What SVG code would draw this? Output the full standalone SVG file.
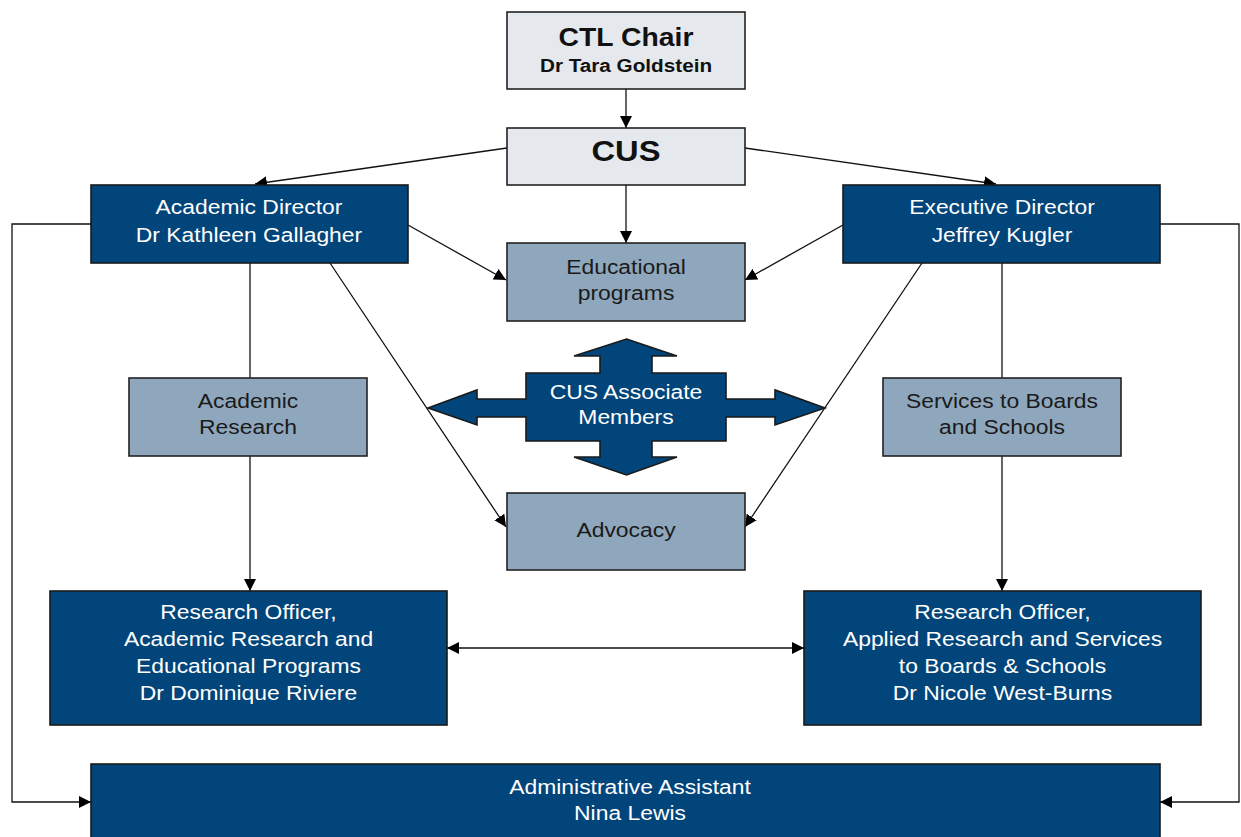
<svg xmlns="http://www.w3.org/2000/svg" width="1241" height="837" viewBox="0 0 1241 837">
  <style>
    .light { fill: #e5e8ed; stroke: #222; stroke-width: 1.6; }
    .mid { fill: #8fa7bd; stroke: #222; stroke-width: 1.6; }
    .dark { fill: #02457a; stroke: #1a1a1a; stroke-width: 1.6; }
    text { font-family: "Liberation Sans", Arial, Helvetica, sans-serif; text-anchor: middle; }
    .w { fill: #ffffff; font-size: 21px; }
    .k { fill: #1a1a1a; font-size: 21px; }
    .edge { fill: none; stroke: #111; stroke-width: 1.3; }
  </style>
  <defs>
    <marker id="arrow" viewBox="0 0 12 12" refX="12" refY="6" markerWidth="12" markerHeight="12" markerUnits="userSpaceOnUse" orient="auto-start-reverse">
      <path d="M0,0 L12,6 L0,12 Z" fill="#000"/>
    </marker>
  </defs>

  <rect width="1241" height="837" fill="#ffffff"/>

  <!-- connectors -->
  <g id="connectors">
    <line class="edge" x1="626" y1="89" x2="626" y2="128" marker-end="url(#arrow)"/>
    <line class="edge" x1="507" y1="148" x2="255" y2="184" marker-end="url(#arrow)"/>
    <line class="edge" x1="745" y1="148" x2="996" y2="184" marker-end="url(#arrow)"/>
    <line class="edge" x1="626" y1="185" x2="626" y2="243" marker-end="url(#arrow)"/>
    <line class="edge" x1="408" y1="225" x2="506" y2="280" marker-end="url(#arrow)"/>
    <line class="edge" x1="843" y1="225" x2="745" y2="280" marker-end="url(#arrow)"/>
    <line class="edge" x1="250" y1="263" x2="250" y2="378"/>
    <line class="edge" x1="250" y1="456" x2="250" y2="591" marker-end="url(#arrow)"/>
    <line class="edge" x1="330" y1="263" x2="506" y2="527" marker-end="url(#arrow)"/>
    <line class="edge" x1="922" y1="263" x2="745" y2="527" marker-end="url(#arrow)"/>
    <line class="edge" x1="1002" y1="263" x2="1002" y2="378"/>
    <line class="edge" x1="1002" y1="456" x2="1002" y2="591" marker-end="url(#arrow)"/>
    <line class="edge" x1="447" y1="648" x2="804" y2="648" marker-start="url(#arrow)" marker-end="url(#arrow)"/>
    <polyline class="edge" points="91,224 12,224 12,802 91,802" marker-end="url(#arrow)"/>
    <polyline class="edge" points="1160,224 1239,224 1239,802 1160,802" marker-end="url(#arrow)"/>
  </g>

  <!-- nodes -->
  <g id="ctl-chair">
    <rect class="light" x="507" y="12" width="238" height="77"/>
    <text transform="translate(626 46) scale(1.09 1)" style="font-size:26px;font-weight:bold;fill:#111">CTL Chair</text>
    <text transform="translate(626 72) scale(1.09 1)" style="font-size:19px;font-weight:bold;fill:#111">Dr Tara Goldstein</text>
  </g>

  <g id="cus">
    <rect class="light" x="507" y="128" width="238" height="57"/>
    <text transform="translate(626 161) scale(1.09 1)" style="font-size:30px;font-weight:bold;fill:#111">CUS</text>
  </g>

  <g id="academic-director">
    <rect class="dark" x="91" y="185" width="317" height="78"/>
    <text class="w" transform="translate(249 214) scale(1.09 1)">Academic Director</text>
    <text class="w" transform="translate(249 242) scale(1.09 1)">Dr Kathleen Gallagher</text>
  </g>

  <g id="executive-director">
    <rect class="dark" x="843" y="185" width="317" height="78"/>
    <text class="w" transform="translate(1002 214) scale(1.09 1)">Executive Director</text>
    <text class="w" transform="translate(1002 242) scale(1.09 1)">Jeffrey Kugler</text>
  </g>

  <g id="educational-programs">
    <rect class="mid" x="507" y="243" width="238" height="78"/>
    <text class="k" transform="translate(626 274) scale(1.09 1)">Educational</text>
    <text class="k" transform="translate(626 300) scale(1.09 1)">programs</text>
  </g>

  <g id="academic-research">
    <rect class="mid" x="129" y="378" width="238" height="78"/>
    <text class="k" transform="translate(248 408) scale(1.09 1)">Academic</text>
    <text class="k" transform="translate(248 434) scale(1.09 1)">Research</text>
  </g>

  <g id="services">
    <rect class="mid" x="883" y="378" width="238" height="78"/>
    <text class="k" transform="translate(1002 408) scale(1.09 1)">Services to Boards</text>
    <text class="k" transform="translate(1002 434) scale(1.09 1)">and Schools</text>
  </g>

  <g id="associate-members">
    <polygon class="dark" points="626.5,339 677,356 652,356 652,373 726,373 726,399 775,399 775,390 825,408 775,425 775,417 726,417 726,441 652,441 652,457 677,457 626.5,475 574,457 600,457 600,441 526,441 526,417 477,417 477,425 428,408 477,390 477,399 526,399 526,373 600,373 600,356 574,356"/>
    <text class="w" transform="translate(626 399) scale(1.09 1)">CUS Associate</text>
    <text class="w" transform="translate(626 424) scale(1.09 1)">Members</text>
  </g>

  <g id="advocacy">
    <rect class="mid" x="507" y="493" width="238" height="77"/>
    <text class="k" transform="translate(626 537) scale(1.09 1)">Advocacy</text>
  </g>

  <g id="research-officer-academic">
    <rect class="dark" x="50" y="591" width="397" height="134"/>
    <text class="w" transform="translate(248.5 619) scale(1.09 1)">Research Officer,</text>
    <text class="w" transform="translate(248.5 646) scale(1.09 1)">Academic Research and</text>
    <text class="w" transform="translate(248.5 673) scale(1.09 1)">Educational Programs</text>
    <text class="w" transform="translate(248.5 700) scale(1.09 1)">Dr Dominique Riviere</text>
  </g>

  <g id="research-officer-applied">
    <rect class="dark" x="804" y="591" width="397" height="134"/>
    <text class="w" transform="translate(1002.5 619) scale(1.09 1)">Research Officer,</text>
    <text class="w" transform="translate(1002.5 646) scale(1.09 1)">Applied Research and Services</text>
    <text class="w" transform="translate(1002.5 673) scale(1.09 1)">to Boards &amp; Schools</text>
    <text class="w" transform="translate(1002.5 700) scale(1.09 1)">Dr Nicole West-Burns</text>
  </g>

  <g id="administrative-assistant">
    <rect class="dark" x="91" y="764" width="1069" height="90"/>
    <text class="w" transform="translate(630 794) scale(1.09 1)">Administrative Assistant</text>
    <text class="w" transform="translate(630 820) scale(1.09 1)">Nina Lewis</text>
  </g>
</svg>
